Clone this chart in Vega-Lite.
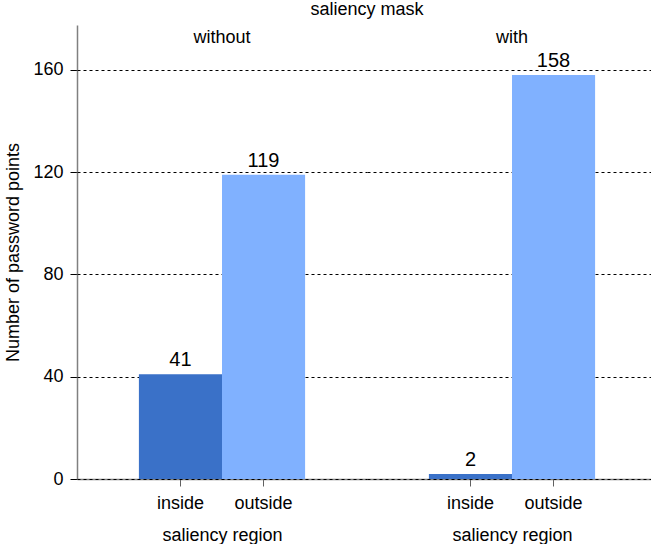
{
  "$schema": "https://vega.github.io/schema/vega-lite/v6.json",
  "data": {"values": [
    {"mask": "without", "region": "inside", "count": 41},
    {"mask": "without", "region": "outside", "count": 119},
    {"mask": "with", "region": "inside", "count": 2},
    {"mask": "with", "region": "outside", "count": 158}
  ]},
  "padding": {"left": 4, "top": 1, "right": 0, "bottom": 0},
  "spacing": 0,
  "facet": {
    "column": {
      "field": "mask", "type": "nominal", "sort": ["without", "with"],
      "title": "saliency mask",
      "header": {
        "titleFontSize": 18, "titleFontWeight": "normal", "titleFont": "Liberation Sans", "titleColor": "#000",
        "titlePadding": -4,
        "labelFontSize": 18, "labelFont": "Liberation Sans", "labelColor": "#000",
        "labelPadding": -22
      }
    }
  },
  "spec": {
    "width": 290,
    "height": 454,
    "encoding": {
      "x": {
        "field": "region", "type": "nominal", "title": "saliency region",
        "scale": {"paddingInner": 0, "paddingOuter": 0.745},
        "axis": {"labelAngle": 0, "labelFontSize": 18, "titleFontSize": 18, "titleFontWeight": "normal",
                 "labelPadding": 8, "titlePadding": 14, "tickSize": 7, "domainColor": "#808080", "tickColor": "#606060",
                 "domainWidth": 1.5, "labelColor": "#000", "titleColor": "#000"}
      },
      "y": {
        "field": "count", "type": "quantitative", "title": "Number of password points",
        "scale": {"domain": [0, 177.6], "nice": false},
        "axis": {"values": [0, 40, 80, 120, 160], "labelFontSize": 18, "titleFontSize": 18, "titleFontWeight": "normal",
                 "tickSize": 7, "labelPadding": 7, "titlePadding": 10, "domainColor": "#808080", "domainWidth": 1.5, "tickColor": "#000",
                 "gridColor": "#000", "gridDash": [3, 3], "gridWidth": 1, "gridOpacity": 1,
                 "labelColor": "#000", "titleColor": "#000"}
      }
    },
    "layer": [
      {
        "mark": {"type": "bar"},
        "encoding": {
          "color": {"field": "region", "type": "nominal", "legend": null,
                    "scale": {"domain": ["inside", "outside"], "range": ["#3a71c8", "#80b1ff"]}}
        }
      },
      {
        "mark": {"type": "text", "baseline": "alphabetic", "dy": -8, "fontSize": 20, "color": "#000"},
        "encoding": {"text": {"field": "count", "type": "quantitative"}}
      }
    ]
  },
  "config": {
    "font": "Liberation Sans",
    "view": {"stroke": null},
    "axisX": {"grid": false}
  }
}
